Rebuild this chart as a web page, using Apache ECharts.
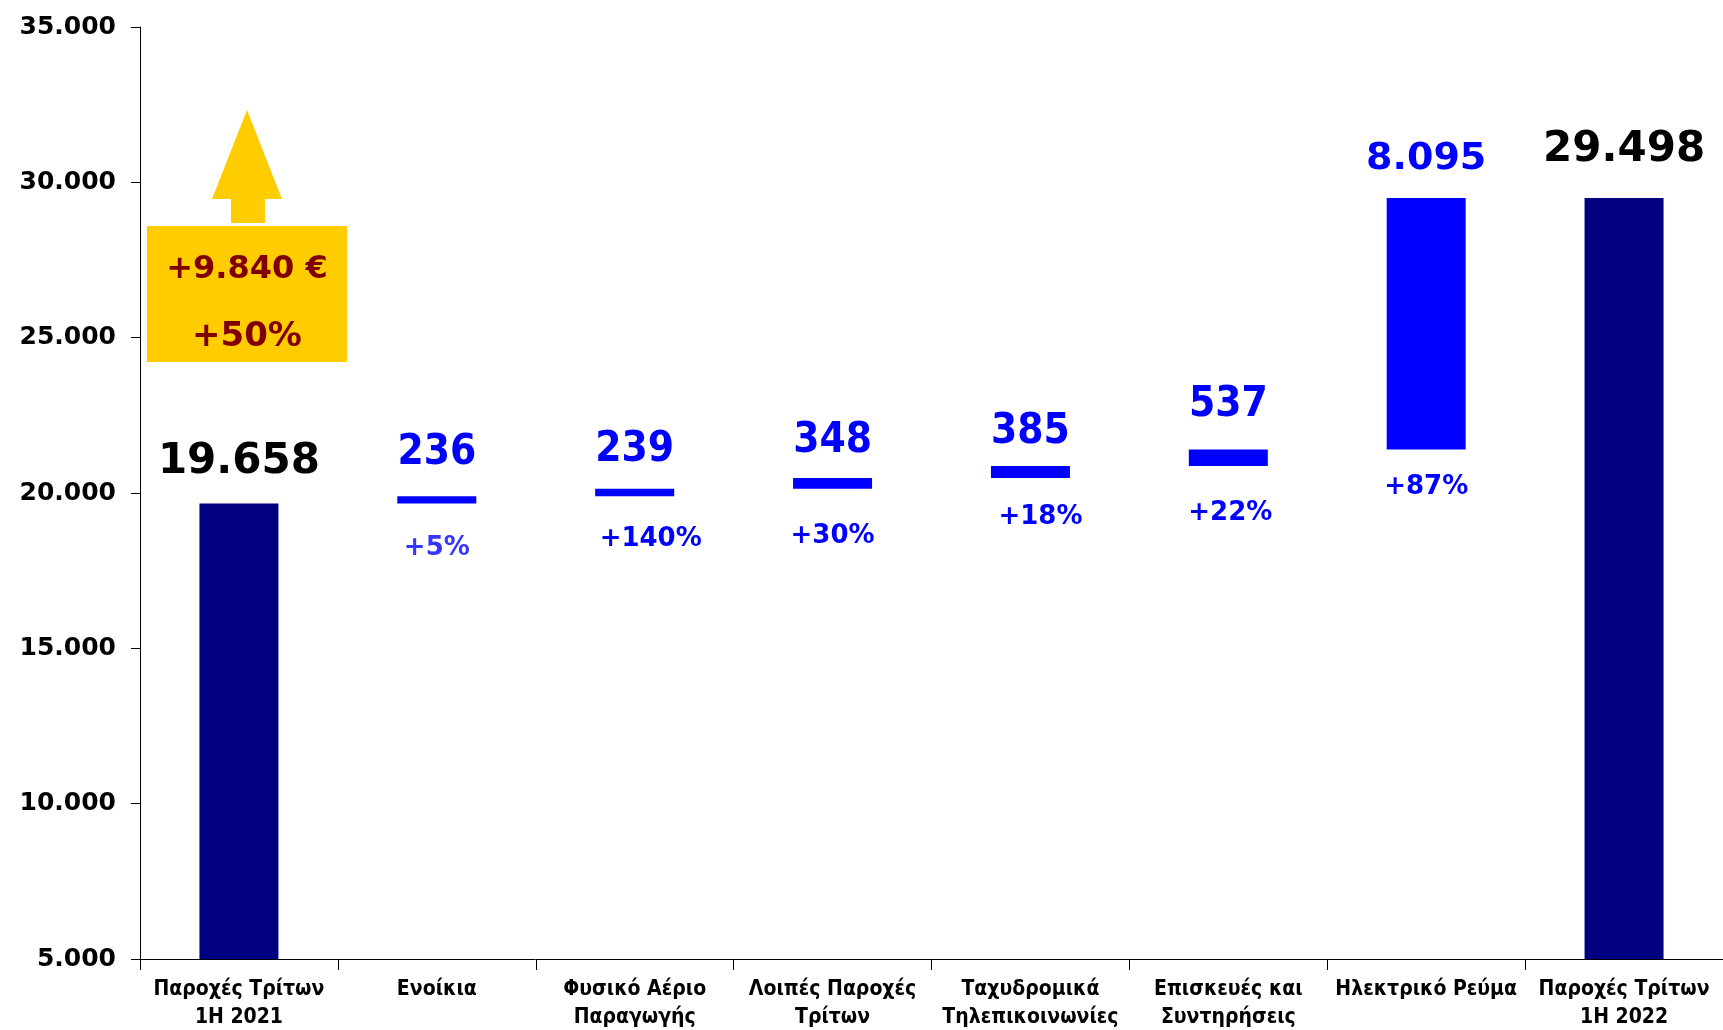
<!DOCTYPE html>
<html>
<head>
<meta charset="utf-8">
<script src="https://cdn.jsdelivr.net/npm/echarts@6/dist/echarts.min.js"></script>
<style>
  html, body { margin: 0; padding: 0; background: #fff; }
  #chart { width: 1723px; height: 1030px; }
</style>
</head>
<body>
<div id="chart"></div>
<script>
// categories & values
var categories = [
	'Παροχές Τρίτων\n1H 2021',
	'Ενοίκια',
	'Φυσικό Αέριο\nΠαραγωγής',
	'Λοιπές Παροχές\nΤρίτων',
	'Ταχυδρομικά\nΤηλεπικοινωνίες',
	'Επισκευές και\nΣυντηρήσεις',
	'Ηλεκτρικό Ρεύμα',
	'Παροχές Τρίτων\n1H 2022'
];
var startTotal = 19658;
var changes = [236, 239, 348, 385, 537, 8095];
var endTotal = 29498;
var changePct = ['+5%', '+140%', '+30%', '+18%', '+22%', '+87%'];
var yTicks = [5000, 10000, 15000, 20000, 25000, 30000, 35000];

// label tweaks per bar (distance from bar, horizontal shift)
var topDist = [21, 22, 18, 16, 13, 23, 20, 27];
var pctDist = [32, 30, 34, 26, 34, 25];
var pctShift = [0, 16, 0, 10, 2, 0];

function fmt(v){
	return String(v).replace(/\B(?=(\d{3})+(?!\d))/g, '.');
}

var baseData = [];
var barData = [];
var running = startTotal;

baseData.push(0);
barData.push({
	value: startTotal,
	itemStyle: { color: '#000080' },
	label: {
		show: true, position: 'top', distance: topDist[0],
		formatter: fmt(startTotal),
		color: '#000', fontSize: 42, fontWeight: 'bold', fontFamily: 'DejaVu Sans'
	}
});
changes.forEach(function(c, i){
	var big = c >= 1000;
	baseData.push({
		value: running,
		itemStyle: { color: 'transparent' },
		label: {
			show: true, position: 'insideTop', distance: pctDist[i], offset: [pctShift[i], 0],
			formatter: changePct[i],
			color: i == 0 ? '#3535ff' : '#0000ff', fontSize: 26, fontWeight: 'bold', fontFamily: 'DejaVu Sans'
		}
	});
	barData.push({
		value: c,
		itemStyle: { color: '#0000ff' },
		label: {
			show: true, position: 'top', distance: topDist[i + 1],
			formatter: fmt(c),
			color: '#0000ff',
			fontSize: big ? 38 : 42,
			fontWeight: 'bold',
			fontFamily: big ? 'DejaVu Sans' : 'DejaVu Sans Condensed'
		}
	});
	running += c;
});
baseData.push(0);
barData.push({
	value: endTotal,
	itemStyle: { color: '#000080' },
	label: {
		show: true, position: 'top', distance: topDist[7],
		formatter: fmt(endTotal),
		color: '#000', fontSize: 42, fontWeight: 'bold', fontFamily: 'DejaVu Sans'
	}
});

var chart = echarts.init(document.getElementById('chart'));

var option = {
	backgroundColor: '#fff',
	animation: false,
	grid: { left: 140, right: 0, top: 27, bottom: 71, containLabel: false, outerBoundsMode: 'none' },
	xAxis: {
		type: 'category',
		data: categories,
		axisLine: { lineStyle: { color: '#000', width: 1 } },
		axisTick: { show: true, length: 11, alignWithLabel: false, lineStyle: { color: '#000' } },
		axisLabel: {
			interval: 0, margin: 17,
			color: '#000', fontSize: 21, lineHeight: 28, fontWeight: 'bold',
			fontFamily: 'DejaVu Sans Condensed'
		},
		splitLine: { show: false }
	},
	yAxis: {
		type: 'value',
		min: yTicks[0],
		max: yTicks[yTicks.length - 1],
		interval: yTicks[1] - yTicks[0],
		axisLine: { show: true, lineStyle: { color: '#000', width: 1 } },
		axisTick: { show: true, length: 9, lineStyle: { color: '#000' } },
		axisLabel: {
			margin: 24, color: '#000', fontSize: 25, fontWeight: 'bold', fontFamily: 'DejaVu Sans',
			formatter: function(v){ return fmt(v); }
		},
		splitLine: { show: false }
	},
	series: [
		{
			type: 'bar', stack: 'wf', barWidth: 79,
			itemStyle: { color: 'transparent' },
			silent: true,
			data: baseData
		},
		{
			type: 'bar', stack: 'wf', barWidth: 79,
			data: barData
		}
	],
	graphic: [
		{
			type: 'polygon',
			shape: { points: [[247, 110], [282, 199], [265, 199], [265, 223], [231, 223], [231, 199], [212, 199]] },
			style: { fill: '#ffcc00' }
		},
		{
			type: 'rect',
			shape: { x: 147, y: 226, width: 200, height: 136 },
			style: { fill: '#ffcc00' }
		},
		{
			type: 'text', x: 247, y: 270,
			style: { text: '+9.840 €', fill: '#800000', font: 'bold 32px "DejaVu Sans"', align: 'center', verticalAlign: 'middle' }
		},
		{
			type: 'text', x: 247, y: 337,
			style: { text: '+50%', fill: '#800000', font: 'bold 34px "DejaVu Sans"', align: 'center', verticalAlign: 'middle' }
		}
	]
};

chart.setOption(option);
</script>
</body>
</html>
